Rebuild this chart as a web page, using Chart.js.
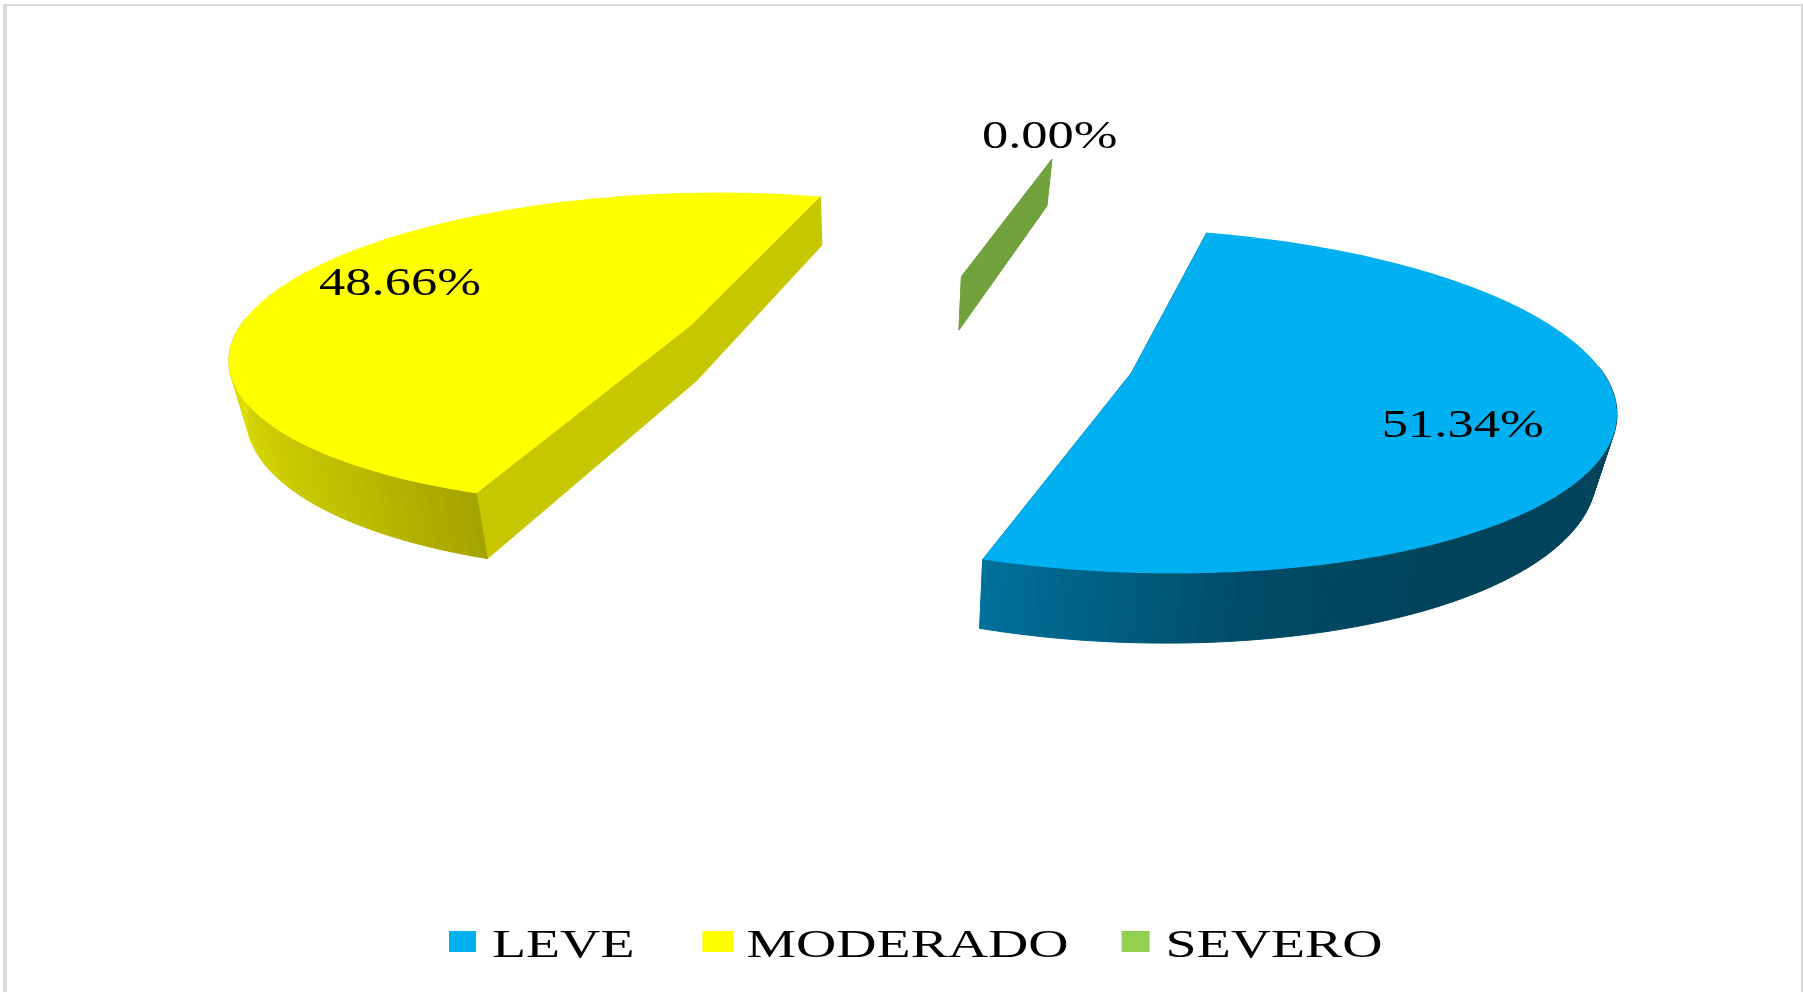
<!DOCTYPE html>
<html>
<head>
<meta charset="utf-8">
<title>Grado de severidad</title>
<script src="https://cdn.jsdelivr.net/npm/chart.js@4/dist/chart.umd.min.js"></script>
<style>
    html, body { margin: 0; background: #fff; overflow: hidden; }
    #frame {
        position: absolute; left: 3px; top: 4px; right: 0; bottom: -10px;
        border: solid #d9d9d9; border-width: 2px 2px 0 4px;
        pointer-events: none;
    }
    canvas { position: absolute; left: 0; top: 0; }
</style>
</head>
<body>
<canvas id="chart1" width="1803" height="992"></canvas>
<div id="frame"></div>
<script>
const categories = ['LEVE', 'MODERADO', 'SEVERO'];
const percentages = [51.34, 48.66, 0.00];
const sliceColors = ['#00B0F0', '#FFFF00', '#92D050'];

// camera used to lay the pie on the floor plane (x right, y away from viewer, unit = pie radius)
const viewX = 906;
const horizonY = -672;
const depthY = 1020.6;
const spreadX = 461;
const perspective = 0.157;
const explode = 0.5;

// the base of the pie is the top scaled about this point
const baseX = 874;
const baseScaleX = 0.972;
const baseScaleY = 1.056;

// light on the outer wall, by clock angle
const rimAngles = [90, 150, 172, 199, 219, 255, 290];
const rimLevels = [0.38, 0.38, 0.43, 0.64, 0.75, 0.87, 0.9];
const sideLevel = 0.78;

// where each percentage sits: radius from the slice tip and turn from its middle, degrees
const labelRadius = [0.705, 0.77, 1.26];
const labelTurn = [5.2, 7, -2.8];

// legend row
const legendLeft = 449;
const legendBoxWidths = [27, 31, 28];
const legendTextGaps = [16, 13, 16];
const legendGaps = [68, 53, 0];

function project(x, y) {
    const w = 1 + perspective * y;
    return { x: viewX + spreadX * x / w, y: horizonY + depthY / w };
}

function lower(p) {
    return {
        x: baseX + (p.x - baseX) * baseScaleX,
        y: horizonY + (p.y - horizonY) * baseScaleY
    };
}

function shade(hex, k) {
    const n = parseInt(hex.slice(1), 16);
    const r = Math.round((n >> 16 & 255) * k);
    const g = Math.round((n >> 8 & 255) * k);
    const b = Math.round((n & 255) * k);
    return 'rgb(' + r + ',' + g + ',' + b + ')';
}

function rimLevel(clock) {
    if (clock <= rimAngles[0]) return rimLevels[0];
    for (let i = 1; i < rimAngles.length; i++) {
        if (clock <= rimAngles[i]) {
            const t = (clock - rimAngles[i - 1]) / (rimAngles[i] - rimAngles[i - 1]);
            return rimLevels[i - 1] + t * (rimLevels[i] - rimLevels[i - 1]);
        }
    }
    return rimLevels[rimLevels.length - 1];
}

function fillPoly(ctx, points, color, edge) {
    ctx.beginPath();
    points.forEach(function (p, i) {
        if (i == 0) ctx.moveTo(p.x, p.y);
        else ctx.lineTo(p.x, p.y);
    });
    ctx.closePath();
    ctx.fillStyle = color;
    ctx.fill();
    if (edge) {
        ctx.strokeStyle = color;
        ctx.lineWidth = 1;
        ctx.stroke();
    }
}

function wideText(ctx, text, x, y, stretch) {
    ctx.save();
    ctx.translate(x, y);
    ctx.scale(stretch, 1);
    ctx.fillText(text, 0, 0);
    ctx.restore();
}

const floorPie = {
    id: 'floorPie',
    beforeDatasetDraw: function (chart) {
        const ctx = chart.ctx;
        const arcs = chart.getDatasetMeta(0).data;
        arcs.forEach(function (arc, index) {
            const color = arc.options.backgroundColor;
            const middle = (arc.startAngle + arc.endAngle) / 2;
            const tipX = explode * Math.cos(middle);
            const tipY = -explode * Math.sin(middle);
            const tip = project(tipX, tipY);

            const rim = [];
            const steps = Math.max(1, Math.ceil((arc.endAngle - arc.startAngle) / 0.02));
            for (let i = 0; i <= steps; i++) {
                const a = arc.startAngle + (arc.endAngle - arc.startAngle) * i / steps;
                const p = project(tipX + Math.cos(a), tipY - Math.sin(a));
                p.angle = a;
                rim.push(p);
            }

            // flat sides of the wedge
            const first = rim[0];
            const last = rim[rim.length - 1];
            fillPoly(ctx, [tip, first, lower(first), lower(tip)], shade(color, sideLevel), true);
            fillPoly(ctx, [tip, last, lower(last), lower(tip)], shade(color, sideLevel), true);

            // outer wall, only the part facing the viewer
            for (let i = 0; i < rim.length - 1; i++) {
                const a = rim[i].angle;
                if (-Math.sin(a) > 0.05) continue;
                const clock = ((a * 180 / Math.PI + 90) % 360 + 360) % 360;
                fillPoly(ctx, [rim[i], rim[i + 1], lower(rim[i + 1]), lower(rim[i])],
                    shade(color, rimLevel(clock)), true);
            }

            if (steps > 1) {
                fillPoly(ctx, [tip].concat(rim), color);
            }
        });
        return false;
    },
    afterDatasetsDraw: function (chart) {
        const ctx = chart.ctx;
        const arcs = chart.getDatasetMeta(0).data;
        ctx.save();
        ctx.fillStyle = '#000';
        ctx.textBaseline = 'middle';
        ctx.textAlign = 'center';
        ctx.font = '41px "Liberation Serif"';
        arcs.forEach(function (arc, index) {
            const middle = (arc.startAngle + arc.endAngle) / 2;
            const a = middle + labelTurn[index] * Math.PI / 180;
            const x = explode * Math.cos(middle) + labelRadius[index] * Math.cos(a);
            const y = -explode * Math.sin(middle) - labelRadius[index] * Math.sin(a);
            const p = project(x, y);
            wideText(ctx, percentages[index].toFixed(2) + '%', p.x, p.y + 5, 1.28);
        });

        const legendStretch = 1.36;
        ctx.textBaseline = 'alphabetic';
        ctx.textAlign = 'left';
        let x = legendLeft;
        categories.forEach(function (c, i) {
            ctx.fillStyle = sliceColors[i];
            ctx.fillRect(x, 931, legendBoxWidths[i], 21);
            ctx.fillStyle = '#000';
            const textX = x + legendBoxWidths[i] + legendTextGaps[i];
            wideText(ctx, c, textX, 957, legendStretch);
            x = textX + ctx.measureText(c).width * legendStretch + legendGaps[i];
        });
        ctx.restore();
    }
};

var ctxChart1 = document.getElementById('chart1').getContext('2d');
var chart1 = new Chart(ctxChart1, {
    type: 'pie',
    plugins: [floorPie],
    data: {
        labels: categories,
        datasets: [{
            data: percentages,
            backgroundColor: sliceColors,
            borderWidth: 0
        }]
    },
    options: {
        responsive: false,
        animation: false,
        rotation: 15,
        plugins: {
            legend: { display: false },
            title: { display: false },
            tooltip: { enabled: false }
        }
    }
});
</script>
</body>
</html>
